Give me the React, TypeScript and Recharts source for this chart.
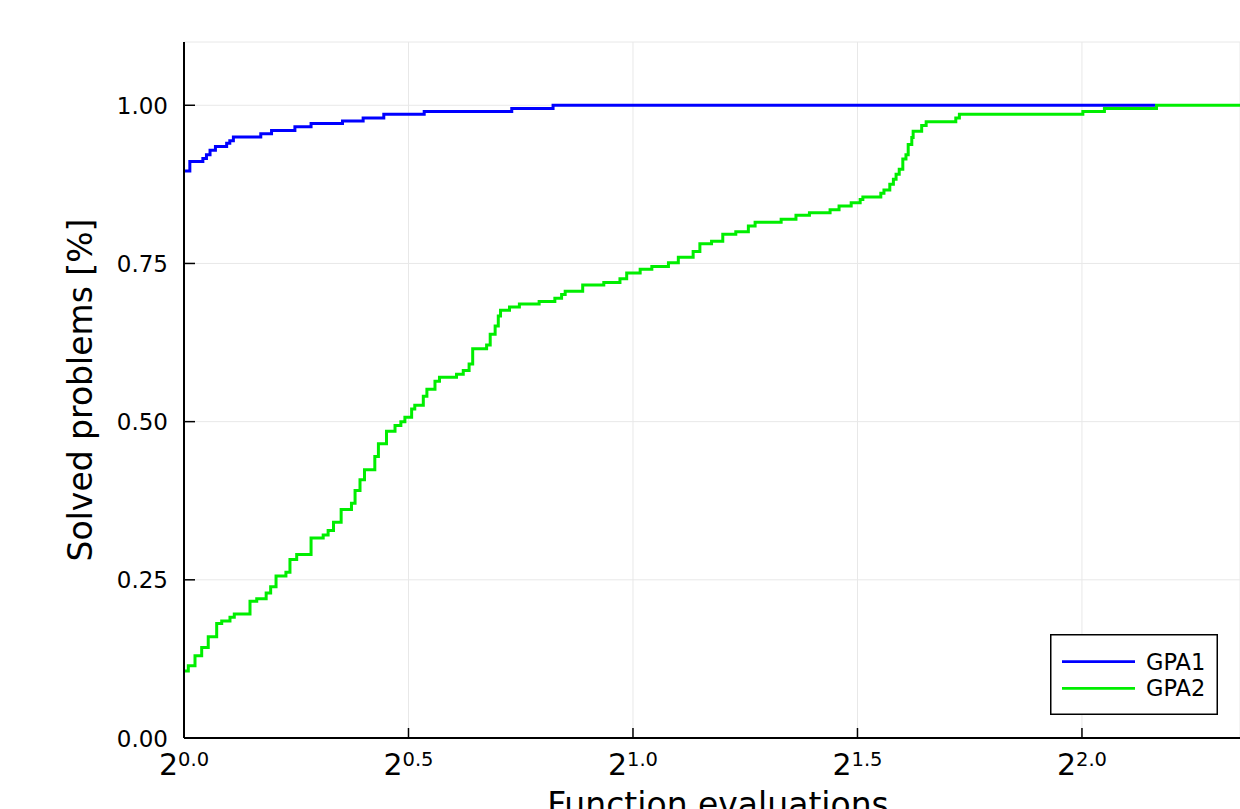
import React from 'react';
import { LineChart, Line, XAxis, YAxis, CartesianGrid } from 'recharts';

// x values are log2(function evaluations); y values are fractions solved
const gpa1X = [0, 0.013, 0.042, 0.05, 0.058, 0.07, 0.095, 0.102, 0.11, 0.171, 0.195, 0.247, 0.283, 0.353, 0.399, 0.445, 0.535, 0.73, 0.822, 2.163];
const gpa1Y = [0.896, 0.911, 0.916, 0.922, 0.929, 0.935, 0.94, 0.944, 0.95, 0.955, 0.96, 0.966, 0.971, 0.975, 0.98, 0.986, 0.99, 0.995, 1.0, 1.0];

const gpa2X = [0, 0.0096, 0.0245, 0.0394, 0.054, 0.0728, 0.084, 0.1024, 0.112, 0.147, 0.162, 0.183, 0.193, 0.205, 0.227, 0.236, 0.251, 0.283, 0.31, 0.321, 0.333, 0.35, 0.373, 0.381, 0.392, 0.402, 0.425, 0.433, 0.451, 0.47, 0.483, 0.492, 0.507, 0.514, 0.533, 0.541, 0.559, 0.569, 0.607, 0.622, 0.635, 0.643, 0.674, 0.682, 0.693, 0.7, 0.705, 0.725, 0.747, 0.791, 0.826, 0.841, 0.849, 0.888, 0.935, 0.971, 0.986, 1.016, 1.042, 1.079, 1.101, 1.134, 1.149, 1.175, 1.2, 1.229, 1.257, 1.272, 1.33, 1.363, 1.393, 1.439, 1.459, 1.486, 1.506, 1.512, 1.552, 1.559, 1.572, 1.58, 1.586, 1.593, 1.601, 1.608, 1.613, 1.621, 1.624, 1.643, 1.653, 1.719, 1.727, 2.002, 2.05, 2.166, 2.352];
const gpa2Y = [0.106, 0.114, 0.13, 0.143, 0.16, 0.181, 0.185, 0.191, 0.196, 0.216, 0.22, 0.229, 0.239, 0.256, 0.262, 0.282, 0.29, 0.316, 0.321, 0.328, 0.341, 0.361, 0.371, 0.391, 0.408, 0.424, 0.445, 0.465, 0.485, 0.494, 0.5, 0.507, 0.52, 0.526, 0.54, 0.551, 0.564, 0.57, 0.575, 0.581, 0.591, 0.615, 0.621, 0.638, 0.651, 0.667, 0.676, 0.681, 0.686, 0.69, 0.695, 0.701, 0.706, 0.716, 0.72, 0.726, 0.735, 0.741, 0.745, 0.751, 0.76, 0.769, 0.781, 0.785, 0.796, 0.8, 0.809, 0.815, 0.82, 0.826, 0.83, 0.835, 0.841, 0.846, 0.851, 0.855, 0.861, 0.866, 0.875, 0.883, 0.891, 0.899, 0.915, 0.922, 0.938, 0.949, 0.959, 0.968, 0.974, 0.98, 0.986, 0.99, 0.995, 1.0, 1.0];

const xTicks = [0, 0.5, 1.0, 1.5, 2.0];
const yTicks = [0, 0.25, 0.5, 0.75, 1.0];
const xDomain = [0, 2.352];
const yDomain = [0, 1.1];

const seriesNames = ['GPA1', 'GPA2'];
const seriesColors = ['#0000ff', '#00ee00'];

const gpa1Data = gpa1X.map((x, i) => ({ x, y: gpa1Y[i] }));
const gpa2Data = gpa2X.map((x, i) => ({ x, y: gpa2Y[i] }));

const FONT = 'DejaVu Sans';

const XTick = (props: any) => {
  const { x, y, payload } = props;
  return (
    <g>
      <line x1={x} x2={x} y1={y} y2={y - 10} stroke="#000" strokeWidth={1.5} />
      <text x={x} y={y + 37} textAnchor="middle" fontFamily={FONT} fill="#000">
        <tspan fontSize={30}>2</tspan>
        <tspan fontSize={19.5} dy={-9}>{Number(payload.value).toFixed(1)}</tspan>
      </text>
    </g>
  );
};

const YTick = (props: any) => {
  const { x, y, payload } = props;
  return (
    <g>
      <line x1={x} x2={x + 11} y1={y} y2={y} stroke="#000" strokeWidth={1.5} />
      <text x={x - 16} y={y + 8.5} textAnchor="end" fontFamily={FONT} fontSize={23} fill="#000">
        {Number(payload.value).toFixed(2)}
      </text>
    </g>
  );
};

const XLabel = (props: any) => {
  const { viewBox } = props;
  const cx = viewBox.x + viewBox.width / 2 + 6;
  return (
    <text x={cx} y={viewBox.y + 78} textAnchor="middle" fontFamily={FONT} fontSize={33} fill="#000">
      Function evaluations
    </text>
  );
};

const YLabel = (props: any) => {
  const { viewBox } = props;
  const cy = viewBox.y + viewBox.height / 2;
  const bx = 92;
  return (
    <text x={bx} y={cy} transform={`rotate(-90, ${bx}, ${cy})`} textAnchor="middle" fontFamily={FONT} fontSize={33} fill="#000">
      Solved problems [%]
    </text>
  );
};

const LegendBox = () => (
  <div style={{ position: 'absolute', left: 1050, top: 634, width: 168, height: 81 }}>
    <svg width={168} height={81}>
      <rect x={0.75} y={0.75} width={166.5} height={79.5} fill="#fff" stroke="#000" strokeWidth={1.5} />
      {seriesNames.map((name, i) => (
        <g key={name}>
          <line x1={12} x2={85} y1={27.7 + i * 26.6} y2={27.7 + i * 26.6} stroke={seriesColors[i]} strokeWidth={2.8} />
          <text x={96} y={27.7 + i * 26.6 + 8} fontFamily={FONT} fontSize={22.5} fill="#000">{name}</text>
        </g>
      ))}
    </svg>
  </div>
);

export default function App() {
  return (
    <div style={{ position: 'absolute', left: 0, top: 0, width: 1240, height: 809, overflow: 'hidden', background: '#fff' }}>
      <LineChart width={1240} height={809} margin={{ top: 42, right: 0, bottom: 0, left: 0 }}>
        <CartesianGrid stroke="#e8e8e8" strokeWidth={1} />
        <XAxis
          type="number"
          dataKey="x"
          domain={xDomain}
          ticks={xTicks}
          allowDataOverflow
          height={71}
          tickSize={0}
          tickMargin={0}
          tickLine={false}
          axisLine={{ stroke: '#000', strokeWidth: 2 }}
          tick={<XTick />}
          label={<XLabel />}
        />
        <YAxis
          type="number"
          domain={yDomain}
          ticks={yTicks}
          allowDataOverflow
          width={184}
          tickSize={0}
          tickMargin={0}
          tickLine={false}
          axisLine={{ stroke: '#000', strokeWidth: 2 }}
          tick={<YTick />}
          label={<YLabel />}
        />
        <Line data={gpa1Data} dataKey="y" type="stepAfter" stroke={seriesColors[0]} strokeWidth={3} dot={false} isAnimationActive={false} name={seriesNames[0]} />
        <Line data={gpa2Data} dataKey="y" type="stepAfter" stroke={seriesColors[1]} strokeWidth={3} dot={false} isAnimationActive={false} name={seriesNames[1]} />
      </LineChart>
      <LegendBox />
    </div>
  );
}
